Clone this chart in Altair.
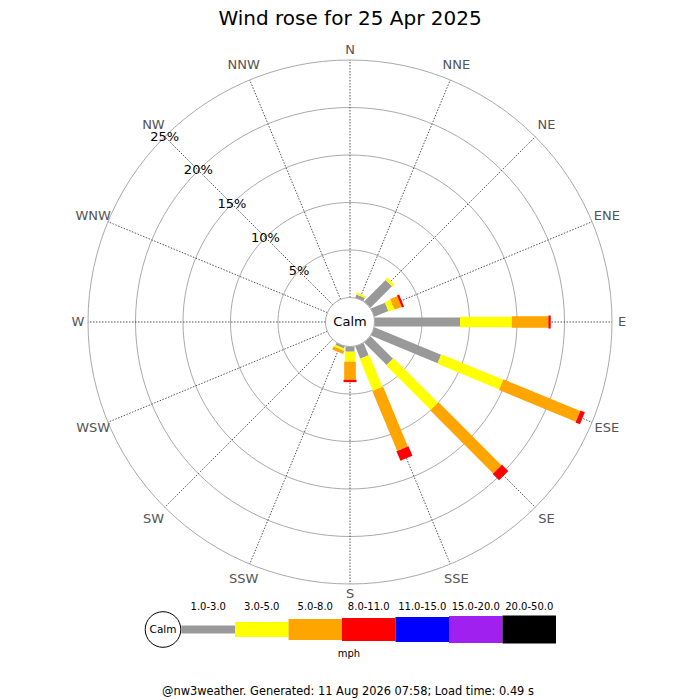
import math
import altair as alt
import pandas as pd

# ---------------- data ----------------
directions = ["N", "NNE", "NE", "ENE", "E", "ESE", "SE", "SSE",
              "S", "SSW", "SW", "WSW", "W", "WNW", "NW", "NNW"]
speed_classes = ["1.0-3.0", "3.0-5.0", "5.0-8.0", "8.0-11.0",
                 "11.0-15.0", "15.0-20.0", "20.0-50.0"]
class_colors = ["#999999", "#ffff00", "#ffa500", "#ff0000",
                "#0000ff", "#a020f0", "#000000"]
# percentage of time per direction for each speed class (mph)
pct_1_3 = [0, 0.35, 3.2, 1.6, 9.0, 7.6, 3.35, 1.4, 0.55, 0.25, 0, 0, 0, 0, 0, 0]
pct_3_5 = [0, 0.2, 0.3, 0.65, 5.45, 7.05, 6.65, 3.65, 1.05, 0.22, 0, 0, 0, 0, 0, 0]
pct_5_8 = [0, 0, 0, 0.8, 3.85, 8.75, 9.35, 6.8, 1.9, 0.35, 0, 0, 0, 0, 0, 0]
pct_8_11 = [0, 0, 0, 0.25, 0.25, 0.5, 0.95, 1.1, 0.25, 0, 0, 0, 0, 0, 0, 0]
pct_11_15 = [0] * 16
pct_15_20 = [0] * 16
pct_20_50 = [0] * 16
ring_levels = [5, 10, 15, 20, 25]
ring_labels = ["5%", "10%", "15%", "20%", "25%"]
title_text = "Wind rose for 25 Apr 2025"
footer_text = "@nw3weather. Generated: 11 Aug 2026 07:58; Load time: 0.49 s"
unit_text = "mph"
calm_text = "Calm"

# ---------------- layout ----------------
W, H = 684, 690
PX = 9.5                 # pixels per percent
CX, CY = 342, 314        # rose centre in chart pixels
CALM = 24.5 / PX         # calm circle radius in percent units
FONT = "DejaVu Sans"
rose_widths = [9, 17, 21, 23, 25, 27, 28]
legend_heights = [8, 15, 21, 23, 25, 27, 28]


def ux(px_page):
    return (px_page - 8 - CX) / PX


def uy(py_page):
    return (CY - (py_page - 8)) / PX


xscale = alt.Scale(domain=[-CX / PX, (W - CX) / PX], range=[0, W], nice=False, zero=False)
yscale = alt.Scale(domain=[(CY - H) / PX, CY / PX], range=[H, 0], nice=False, zero=False)
rscale = alt.Scale(type="linear", domain=[0, 10], range=[0, 10 * PX], zero=True)
cscale = alt.Scale(domain=speed_classes, range=class_colors)

X = lambda f: alt.X(f, type="quantitative", scale=xscale, axis=None)
Y = lambda f: alt.Y(f, type="quantitative", scale=yscale, axis=None)

all_pcts = [pct_1_3, pct_3_5, pct_5_8, pct_8_11, pct_11_15, pct_15_20, pct_20_50]

# ---- bar segments ----
rows = []
for i, d in enumerate(directions):
    cum = 0.0
    for c, cls in enumerate(speed_classes):
        v = all_pcts[c][i]
        if v > 0:
            rows.append({"dir": d, "theta": i * 22.5, "cls": cls,
                         "r0": CALM + cum, "r1": CALM + cum + v})
        cum += v
bars_df = pd.DataFrame(rows)

bars = alt.Chart(bars_df).transform_calculate(
    x0="datum.r0 * sin(datum.theta * PI / 180)",
    y0="datum.r0 * cos(datum.theta * PI / 180)",
    x1="datum.r1 * sin(datum.theta * PI / 180)",
    y1="datum.r1 * cos(datum.theta * PI / 180)",
).mark_rule(strokeCap="butt").encode(
    x=X("x0"), y=Y("y0"), x2="x1:Q", y2="y1:Q",
    color=alt.Color("cls:N", scale=cscale, legend=None),
    strokeWidth=alt.StrokeWidth("cls:O", scale=alt.Scale(domain=speed_classes, range=rose_widths), legend=None),
)

# ---- rings (drawn as closed lines in the same x/y frame) ----
ring_angles = list(range(0, 361, 3))
rings_df = pd.DataFrame({"level": ring_levels, "label": ring_labels,
                         "ang": [ring_angles] * len(ring_levels)})
rings = alt.Chart(rings_df).transform_flatten(["ang"]).transform_calculate(
    r=f"{CALM} + datum.level",
    x="datum.r * sin(datum.ang * PI / 180)",
    y="datum.r * cos(datum.ang * PI / 180)",
).mark_line(stroke="#aaaaaa", strokeWidth=1).encode(
    x=X("x"), y=Y("y"), detail="level:N", order="ang:Q",
)

ring_text = alt.Chart(rings_df).transform_calculate(
    r=f"{CALM} + datum.level",
    x="datum.r * sin(315 * PI / 180)",
    y="datum.r * cos(315 * PI / 180)",
).mark_text(font=FONT, fontSize=13, color="#000000", align="center", baseline="middle").encode(
    x=X("x"), y=Y("y"), text="label:N"
)

# ---- spokes and direction labels ----
dir_df = pd.DataFrame({"dir": directions, "theta": [i * 22.5 for i in range(16)]})
spokes = alt.Chart(dir_df).transform_calculate(
    x0=f"{CALM} * sin(datum.theta * PI / 180)",
    y0=f"{CALM} * cos(datum.theta * PI / 180)",
    x1=f"{CALM + 25} * sin(datum.theta * PI / 180)",
    y1=f"{CALM + 25} * cos(datum.theta * PI / 180)",
).mark_rule(stroke="#555555", strokeWidth=1, strokeDash=[1.5, 1.5]).encode(
    x=X("x0"), y=Y("y0"), x2="x1:Q", y2="y1:Q"
)

dir_labels = alt.Chart(dir_df).transform_calculate(
    rl=f"(datum.dir.length == 1 ? 272 : 278) / {PX}",
    x="datum.rl * sin(datum.theta * PI / 180)",
    y="datum.rl * cos(datum.theta * PI / 180)",
).mark_text(font=FONT, fontSize=13, color="#555555", align="center", baseline="middle").encode(
    x=X("x"), y=Y("y"), text="dir:N"
)

# ---- calm circle ----
calm_df = pd.DataFrame({"label": [calm_text], "r": [CALM], "cx": [0.0], "cy": [0.0]})
calm_circle = alt.Chart(calm_df).mark_arc(fill="white", stroke="#aaaaaa", strokeWidth=1).encode(
    x=X("cx"), y=Y("cy"), radius=alt.Radius("r:Q", scale=rscale),
    theta=alt.value(0), theta2=alt.value(6.3),
)
calm_label = alt.Chart(calm_df).mark_text(font=FONT, fontSize=13, color="black",
                                          align="center", baseline="middle").encode(
    x=X("cx"), y=Y("cy"), text="label:N"
)

# ---- title ----
title = alt.Chart(pd.DataFrame({"t": [title_text]})).mark_text(
    font=FONT, fontSize=20, color="black", align="center", baseline="alphabetic"
).encode(x=alt.value(342), y=alt.value(17), text="t:N")

# ---- legend ----
LEG_LEFT, LEG_SEG, LEG_Y = 181.5, 53.5, 629.5
leg_rows = []
for i, cls in enumerate(speed_classes):
    h = legend_heights[i]
    leg_rows.append({"cls": cls,
                     "x0": ux(LEG_LEFT + i * LEG_SEG), "x1": ux(LEG_LEFT + (i + 1) * LEG_SEG),
                     "y0": uy(LEG_Y - h / 2), "y1": uy(LEG_Y + h / 2),
                     "xl": ux(LEG_LEFT + (i + 0.5) * LEG_SEG), "yl": uy(607)})
leg_df = pd.DataFrame(leg_rows)
leg_rects = alt.Chart(leg_df).mark_rect().encode(
    x=X("x0"), x2="x1:Q", y=Y("y0"), y2="y1:Q",
    color=alt.Color("cls:N", scale=cscale, legend=None),
)
leg_labels = alt.Chart(leg_df).mark_text(font=FONT, fontSize=10, color="black",
                                         align="center", baseline="middle").encode(
    x=X("xl"), y=Y("yl"), text="cls:N"
)
leg_calm_df = pd.DataFrame({"label": [calm_text], "r": [17.8 / PX],
                            "cx": [ux(163)], "cy": [uy(LEG_Y)]})
leg_calm = alt.Chart(leg_calm_df).mark_arc(fill="white", stroke="black", strokeWidth=1).encode(
    x=X("cx"), y=Y("cy"), radius=alt.Radius("r:Q", scale=rscale),
    theta=alt.value(0), theta2=alt.value(6.3),
)
leg_calm_text = alt.Chart(leg_calm_df).mark_text(font=FONT, fontSize=10.5, color="black",
                                                 align="center", baseline="middle").encode(
    x=X("cx"), y=Y("cy"), text="label:N"
)
unit_df = pd.DataFrame({"t": [unit_text], "x": [ux(349)], "y": [uy(654)]})
unit_lbl = alt.Chart(unit_df).mark_text(font=FONT, fontSize=10, color="black",
                                        align="center", baseline="middle").encode(
    x=X("x"), y=Y("y"), text="t:N"
)
footer_df = pd.DataFrame({"t": [footer_text], "x": [ux(348)], "y": [uy(695)]})
footer = alt.Chart(footer_df).mark_text(font=FONT, fontSize=11.4, color="black",
                                        align="center", baseline="alphabetic").encode(
    x=X("x"), y=Y("y"), text="t:N"
)

chart = alt.layer(
    rings, spokes, bars, calm_circle, calm_label, dir_labels, ring_text, title,
    leg_rects, leg_calm, leg_calm_text, leg_labels, unit_lbl, footer
).properties(
    width=W, height=H, padding=0,
    autosize=alt.AutoSizeParams(type="none"),
    background="white",
).configure_view(strokeWidth=0)

chart.save("out.html", embed_options={"renderer": "svg", "actions": False})
